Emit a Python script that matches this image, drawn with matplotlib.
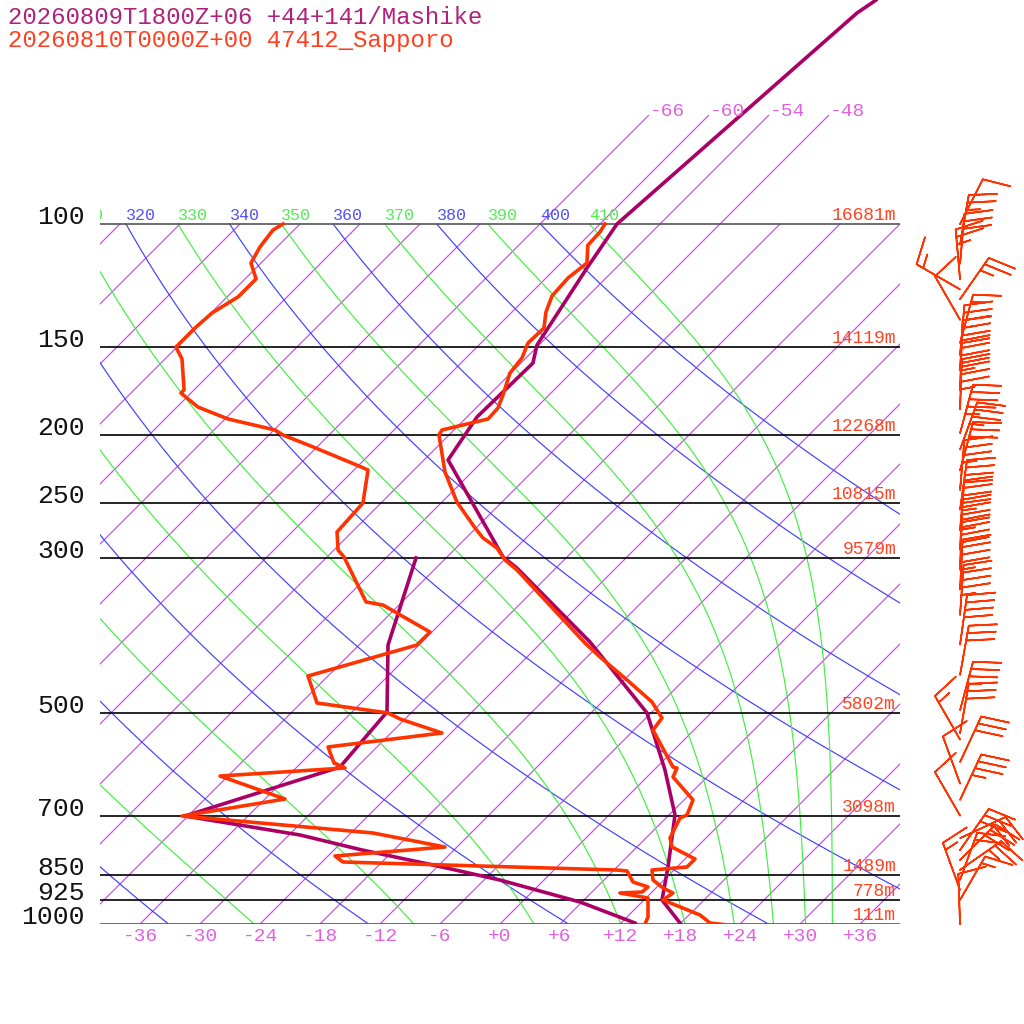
import numpy as np
import matplotlib
matplotlib.use("Agg")
import matplotlib.pyplot as plt

plt.rcParams['font.family'] = ['Liberation Mono', 'DejaVu Sans Mono']

# --- Sapporo 47412, 2026-08-10 00Z ---
sap_t_p = [1003, 996.7, 970.8, 924.1, 903.1, 888.3, 865.3, 837.3, 829.0, 807.5, 776.3, 753.6,
           705.6, 698.7, 665.0, 616.6, 598.6, 596.7, 528.3, 507.8, 481.8, 448.1, 415.5, 396.8,
           344.5, 312.1, 302.0, 290.3, 280.9, 271.8, 249.6, 226.1, 200.2, 196.9, 189.9, 183.2,
           175.5, 163.3, 155.4, 147.9, 140.8, 133.6, 126.7, 119.4, 113.7, 107.2, 102.7, 100.0]
sap_t = [22.8, 20.9, 19.1, 13.9, 14.2, 12.7, 10.9, 9.8, 13.0, 13.0, 9.5, 8.4,
         7.4, 7.8, 6.9, 2.6, 2.1, 1.6, -4.1, -4.4, -7.0, -11.7, -16.7, -19.6,
         -27.9, -33.7, -35.9, -37.9, -40.3, -42.1, -46.5, -50.7, -55.0, -55.2, -51.7, -51.8,
         -52.6, -54.1, -54.4, -55.3, -55.2, -56.6, -57.6, -57.8, -57.4, -59.1, -59.2, -59.5]

sap_td_p = [1005, 1005, 977.2, 918.0, 903.1, 900.1, 885.4, 871.0, 840.0, 837.3, 815.5, 799.6,
            776.3, 741.3, 701.0, 662.9, 614.6, 598.6, 588.8, 558.6, 533.5, 509.5, 499.5, 483.4,
            442.3, 399.4, 382.7, 350.2, 346.7, 299.0, 292.2, 275.4, 250.4, 224.6, 221.7, 208.2,
            200.2, 196.9, 189.9, 182.6, 174.4, 172.6, 155.9, 149.9, 140.8, 134.0, 127.1, 119.8,
            113.7, 107.9, 102.0, 100.0]
sap_td = [15.4, 14.6, 14.1, 12.2, 8.9, 11.0, 11.1, 9.1, 7.4, 6.3, -21.9, -23.3,
          -13.2, -21.8, -42.6, -34.0, -42.8, -31.1, -32.7, -34.9, -24.9, -30.5, -32.3, -40.4,
          -44.0, -36.2, -36.2, -43.6, -45.6, -52.3, -53.6, -55.5, -55.8, -58.6, -59.9, -66.4,
          -70.6, -71.9, -77.7, -81.9, -85.0, -85.0, -88.3, -90.1, -90.1, -89.9, -88.9, -88.9,
          -91.0, -91.7, -92.1, -91.7]

# --- Mashike model point, 2026-08-09 18Z +06 ---
mas_t_p = [996.7, 924.1, 829.0, 698.7, 602.6, 499.5, 395.5, 310.1, 299.0, 217.3, 188.7,
           158.0, 148.9, 115.6, 100.0, 49.96, 47.9]
mas_t = [17.9, 13.8, 11.1, 6.6, 1.1, -6.4, -19.2, -33.9, -36.4, -51.6, -53.0,
         -52.8, -54.2, -56.9, -58.3, -55.4, -54.8]
mas_td_p = [996.7, 930.2, 865.3, 823.6, 783.9, 746.2, 701.0, 596.7, 497.9, 399.4, 300.0]
mas_td = [13.4, 5.8, -4.4, -12.6, -21.2, -28.9, -42.3, -31.7, -32.5, -39.1, -45.0]

# standard levels and Sapporo heights
std_p = [100, 150, 200, 250, 300, 500, 700, 850, 925, 1000]
std_hgt = ["16681m", "14119m", "12268m", "10815m", "9579m", "5802m",
           "3098m", "1489m", "778m", "111m"]

# Sapporo winds (pressure, direction deg, speed kt)
wind_p = [100, 107, 114, 120, 124, 128, 137, 148, 154, 162, 173, 184, 199, 210, 225,
          240, 256, 274, 292, 312, 333, 362, 399, 441, 495, 534, 545, 587, 630, 665,
          700, 754, 784, 810, 837, 865, 894, 924, 1000]
wind_dir = [27, 10, 5, 355, 300, 35, 330, 15, 5, 3, 2, 2, 15, 20, 15,
            5, 8, 5, 3, 2, 3, 4, 8, 10, 15, 10, 330, 25, 340, 25,
            330, 65, 35, 45, 55, 20, 340, 30, 358]
wind_spd = [10, 25, 30, 25, 15, 25, 10, 15, 35, 40, 45, 45, 45, 35, 30,
            35, 40, 45, 45, 40, 45, 45, 40, 30, 35, 30, 15, 30, 10, 35,
            10, 30, 30, 30, 25, 20, 15, 15, 10]

PURPLE = '#aa0066'
RED = '#ff3300'
ISO = '#cc44ee'
ISO_TXT = '#e060e0'
DRY = '#4040ff'
MOIST = '#40f040'

SKEW = 70.0
P_TOP = 1000 * 10 ** (-924 / 700)


def skx(t, p):
    return np.asarray(t, float) + SKEW * np.log10(1000.0 / np.asarray(p, float))


def theta_e(tk, p):
    tc = tk - 273.15
    es = 6.112 * np.exp(17.67 * tc / (tc + 243.5))
    r = np.minimum(622.0 * es / np.maximum(p - es, 1e-3), 200)
    return tk * (1000.0 / p) ** 0.2857 * np.exp((3.376 / tk - 0.00254) * r * (1 + 0.00081 * r))


def moist_t(the, p):
    lo = np.full_like(p, 150.0)
    hi = np.full_like(p, 320.0)
    for _ in range(60):
        mid = (lo + hi) / 2
        up = theta_e(mid, p) > the
        hi = np.where(up, mid, hi)
        lo = np.where(up, lo, mid)
    return (lo + hi) / 2 - 273.15


def adiabat_label(ax, text, x, color):
    # label sits on the 100 hPa line, cut by the plot box like the original
    if x < -46:
        return
    ax.annotate(text, xy=(x, 100), xytext=(0, 3), textcoords='offset points',
                ha='left', va='baseline', color=color, fontsize=12,
                annotation_clip=False, clip_on=True)


fig = plt.figure(figsize=(10.24, 10.24), dpi=100)
ax = fig.add_axes([100 / 1024, 100 / 1024, 800 / 1024, 924 / 1024])
ax.set_yscale('log')
ax.set_ylim(1000, P_TOP)
ax.set_xlim(-40, 40)
ax.axis('off')

pp = np.logspace(3, 2, 200)
thin = dict(lw=0.85)

# isotherms
for t in range(-108, 37, 6):
    ax.plot(skx([t, t], [1000, 100]), [1000, 100], color=ISO, **thin)
for t in [-66, -60, -54, -48]:
    ax.plot(skx([t, t], [100, 70]), [100, 70], color=ISO, **thin)
    ax.annotate(f"{t:+d}", xy=(skx(t, 70), 70), xytext=(1, 0), textcoords='offset points',
                ha='left', va='baseline', color=ISO_TXT, fontsize=14)

# dry adiabats
for th in range(240, 401, 20):
    tt = th * (pp / 1000.0) ** 0.2857 - 273.15
    ax.plot(skx(tt, pp), pp, color=DRY, **thin)
    adiabat_label(ax, str(th), float(skx(tt[-1], 100)), '#5050ff')

# moist adiabats
for the in range(250, 411, 20):
    tt = moist_t(float(the), pp)
    ax.plot(skx(tt, pp), pp, color=MOIST, **thin)
    adiabat_label(ax, str(the), float(skx(tt[-1], 100)), '#50ee50')

# pressure levels
for p, h in zip(std_p, std_hgt):
    c = '#555555' if p in (100, 1000) else 'black'
    ax.plot([-40, 40], [p, p], color=c, lw=1.2)
    ax.text(-15 / 800, p, str(p), transform=ax.get_yaxis_transform(), ha='right',
            va='baseline', fontsize=19, color='#111111')
    ax.text(796 / 800, p, h, transform=ax.get_yaxis_transform(), ha='right',
            va='bottom', fontsize=13, color='#ff4422')

# temperature labels along the bottom
for t in range(-36, 37, 6):
    ax.annotate(f"{t:+d}", xy=(t, 1000), xytext=(0, -3), textcoords='offset points',
                ha='center', va='top', color=ISO_TXT, fontsize=14, annotation_clip=False)

# soundings
ax.plot(skx(mas_td, mas_td_p), mas_td_p, color=PURPLE, lw=2.6)
ax.plot(skx(mas_t, mas_t_p), mas_t_p, color=PURPLE, lw=2.6)
ax.plot(skx(sap_td, sap_td_p), sap_td_p, color=RED, lw=2.6)
ax.plot(skx(sap_t, sap_t_p), sap_t_p, color=RED, lw=2.6)

# wind barbs
axw = fig.add_axes([920 / 1024, 100 / 1024, 104 / 1024, 924 / 1024])
axw.set_yscale('log')
axw.set_ylim(1000, P_TOP)
axw.set_xlim(0, 1)
axw.axis('off')
rad = np.radians(wind_dir)
spd = np.asarray(wind_spd, float)
axw.barbs(np.full(len(wind_p), 0.385), wind_p, -spd * np.sin(rad), -spd * np.cos(rad),
          color=RED, length=8.5, linewidth=1.2, clip_on=False,
          sizes=dict(height=0.55, spacing=0.15),
          barb_increments=dict(half=5, full=10, flag=100))

fig.text(8 / 1024, 1 - 17 / 1024, "20260809T1800Z+06 +44+141/Mashike",
         color='#b0207f', fontsize=17.3, va='center', ha='left')
fig.text(8 / 1024, 1 - 41 / 1024, "20260810T0000Z+00 47412_Sapporo",
         color='#ff4020', fontsize=17.3, va='center', ha='left')

fig.savefig("out.png", dpi=100, facecolor='white')
